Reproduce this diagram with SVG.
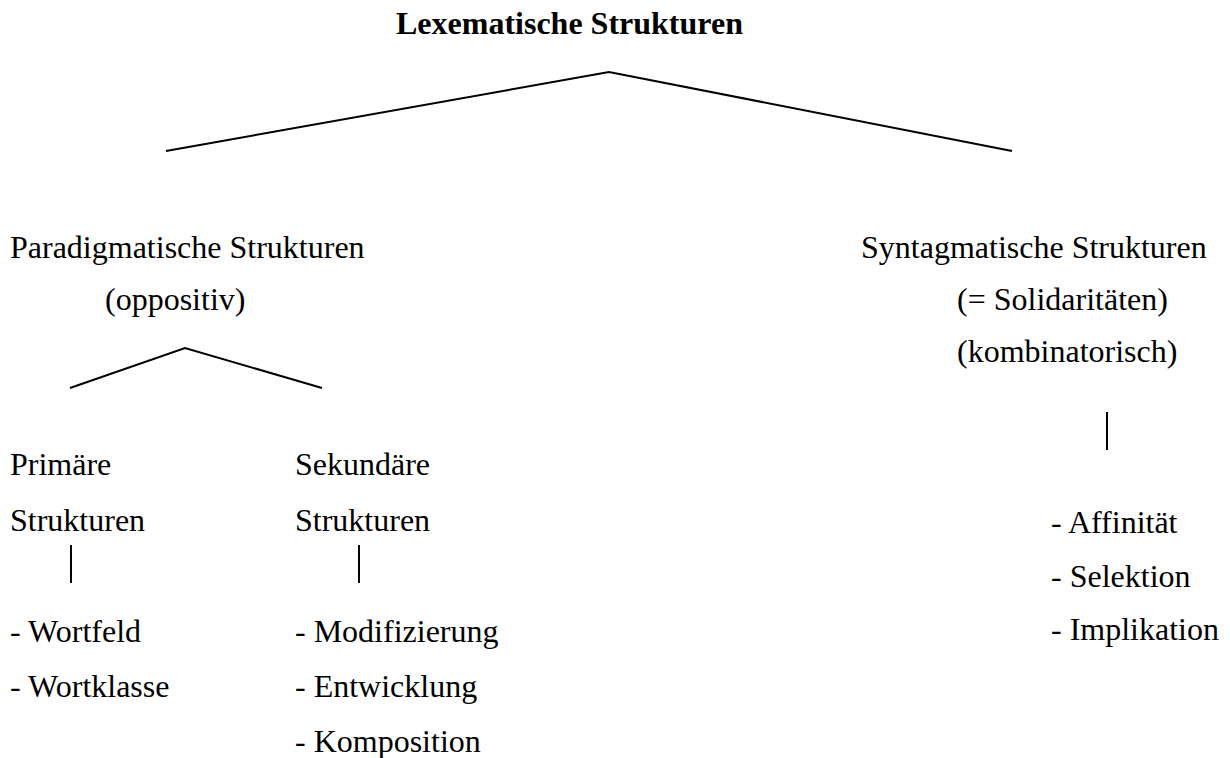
<svg xmlns="http://www.w3.org/2000/svg" width="1230" height="758" viewBox="0 0 1230 758">
<style>
text{font-family:"Liberation Serif","Times New Roman",serif;font-size:32px;fill:#000}
.b{font-weight:bold}
line,polyline{stroke:#000;stroke-width:2;fill:none}
</style>
<rect width="1230" height="758" fill="#fff"/>
<g id="connectors">
<polyline points="166,151 609,72 1012,151"/>
<polyline points="70,388 185,348 322,388"/>
<line x1="71" y1="545" x2="71" y2="583"/>
<line x1="359" y1="545" x2="359" y2="583"/>
<line x1="1107" y1="412" x2="1107" y2="450"/>
</g>
<g id="root"><text class="b" x="396" y="34">Lexematische Strukturen</text></g>
<g id="paradigmatisch">
<text x="10" y="258">Paradigmatische Strukturen</text>
<text x="105" y="310">(oppositiv)</text>
</g>
<g id="syntagmatisch">
<text x="861" y="258">Syntagmatische Strukturen</text>
<text x="957" y="310">(= Solidaritäten)</text>
<text x="957" y="362">(kombinatorisch)</text>
</g>
<g id="primaer">
<text x="10" y="475">Primäre</text>
<text x="10" y="531">Strukturen</text>
</g>
<g id="sekundaer">
<text x="295" y="475">Sekundäre</text>
<text x="295" y="531">Strukturen</text>
</g>
<g id="primaer-list">
<text x="10" y="642">- Wortfeld</text>
<text x="10" y="697">- Wortklasse</text>
</g>
<g id="sekundaer-list">
<text x="295" y="642">- Modifizierung</text>
<text x="295" y="697">- Entwicklung</text>
<text x="295" y="752">- Komposition</text>
</g>
<g id="syntagmatisch-list">
<text x="1051" y="533">- Affinität</text>
<text x="1051" y="587">- Selektion</text>
<text x="1051" y="640">- Implikation</text>
</g>
</svg>
